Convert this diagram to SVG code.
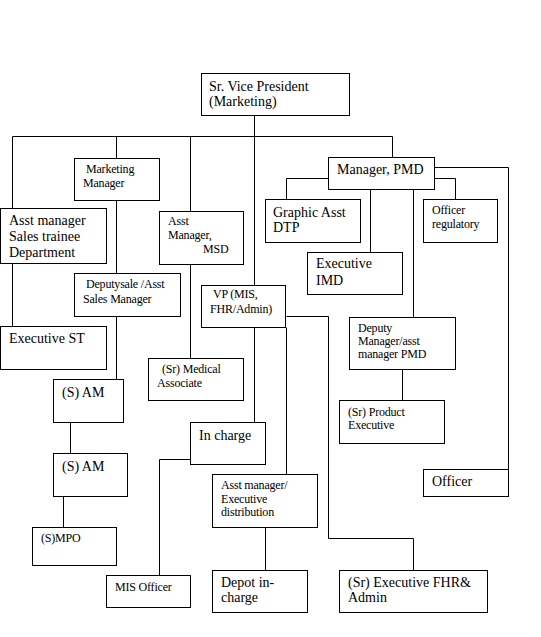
<svg xmlns="http://www.w3.org/2000/svg" width="541" height="637" viewBox="0 0 541 637">
<style>
rect{fill:#fff;stroke:#000;stroke-width:1}
.c path{fill:none;stroke:#000;stroke-width:1}
text{font-family:"Liberation Serif","Times New Roman",serif;fill:#000}
.l{font-size:14px}
.s{font-size:12px;letter-spacing:-0.2px}
</style>
<rect x="0" y="0" width="541" height="637" style="stroke:none"/>
<g class="c" id="connectors">
<path d="M254.5 115.5V285.5"/>
<path d="M12.5 136.5H392.5V157.5"/>
<path d="M12.5 136.5V208.5M12.5 263.5V326.5"/>
<path d="M116.5 136.5V158.5M116.5 200.5V273.5M116.5 316.5V379.5"/>
<path d="M190.5 136.5V211.5M190.5 264.5V358.5"/>
<path d="M70.5 422.5V453.5M63.5 496.5V527.5"/>
<path d="M434.5 167.5H508.5V469.5"/>
<path d="M434.5 178.5H455.5V199.5"/>
<path d="M328.5 178.5H286.5V199.5"/>
<path d="M370.5 189.5V252.5M413.5 189.5V317.5M402.5 369.5V400.5"/>
<path d="M254.5 327.5V422.5M286.5 327.5V474.5"/>
<path d="M286.5 316.5H328.5V538.5H413.5V570.5"/>
<path d="M190.5 459.5H159.5V575.5"/>
<path d="M265.5 527.5V570.5"/>
</g>
<g id="svp"><rect x="201.5" y="73.5" width="148" height="42"/><text class="l" x="209" y="91">Sr. Vice President</text><text class="l" x="209" y="106">(Marketing)</text></g>
<g id="mm"><rect x="74.5" y="158.5" width="85" height="42"/><text class="s" x="86" y="173">Marketing</text><text class="s" x="83" y="187">Manager</text></g>
<g id="astm"><rect x="0.5" y="208.5" width="106" height="55"/><text class="l" x="9" y="225">Asst manager</text><text class="l" x="9" y="241">Sales trainee</text><text class="l" x="9" y="257">Department</text></g>
<g id="msd"><rect x="159.5" y="211.5" width="84" height="53"/><text class="s" x="168" y="225">Asst</text><text class="s" x="168" y="239">Manager,</text><text class="s" x="203" y="253">MSD</text></g>
<g id="pmd"><rect x="328.5" y="157.5" width="106" height="32"/><text class="l" x="337" y="174">Manager, PMD</text></g>
<g id="graphic"><rect x="265.5" y="199.5" width="95" height="43"/><text class="l" x="273" y="217">Graphic Asst</text><text class="l" x="273" y="232">DTP</text></g>
<g id="offreg"><rect x="423.5" y="199.5" width="74" height="43"/><text class="s" x="432" y="214">Officer</text><text class="s" x="432" y="228">regulatory</text></g>
<g id="imd"><rect x="307.5" y="252.5" width="95" height="42"/><text class="l" x="316" y="268">Executive</text><text class="l" x="316" y="285">IMD</text></g>
<g id="dpmd"><rect x="349.5" y="317.5" width="106" height="52"/><text class="s" x="358" y="332">Deputy</text><text class="s" x="358" y="345">Manager/asst</text><text class="s" x="358" y="358">manager PMD</text></g>
<g id="prodexec"><rect x="339.5" y="400.5" width="105" height="43"/><text class="s" x="348" y="416">(Sr) Product</text><text class="s" x="348" y="429">Executive</text></g>
<g id="vpmis"><rect x="201.5" y="285.5" width="84" height="42"/><text class="s" x="213" y="298">VP (MIS,</text><text class="s" x="210" y="313">FHR/Admin)</text></g>
<g id="dsale"><rect x="74.5" y="273.5" width="106" height="43"/><text class="s" x="86" y="288">Deputysale /Asst</text><text class="s" x="83" y="303">Sales Manager</text></g>
<g id="execst"><rect x="0.5" y="326.5" width="106" height="43"/><text class="l" x="9" y="343">Executive ST</text></g>
<g id="medical"><rect x="148.5" y="358.5" width="95" height="42"/><text class="s" x="162" y="373">(Sr) Medical</text><text class="s" x="157" y="387">Associate</text></g>
<g id="sam1"><rect x="53.5" y="379.5" width="70" height="43"/><text class="l" x="62" y="397">(S) AM</text></g>
<g id="sam2"><rect x="53.5" y="453.5" width="74" height="43"/><text class="l" x="62" y="471">(S) AM</text></g>
<g id="smpo"><rect x="32.5" y="527.5" width="84" height="38"/><text class="s" x="41" y="542">(S)MPO</text></g>
<g id="incharge"><rect x="190.5" y="422.5" width="75" height="42"/><text class="l" x="199" y="440">In charge</text></g>
<g id="misofficer"><rect x="106.5" y="575.5" width="84" height="32"/><text class="s" x="115" y="591">MIS Officer</text></g>
<g id="distribution"><rect x="212.5" y="474.5" width="105" height="53"/><text class="s" x="221" y="489">Asst manager/</text><text class="s" x="221" y="503">Executive</text><text class="s" x="221" y="516">distribution</text></g>
<g id="depot"><rect x="212.5" y="570.5" width="95" height="42"/><text class="l" x="221" y="587">Depot in-</text><text class="l" x="221" y="602">charge</text></g>
<g id="fhr"><rect x="339.5" y="570.5" width="148" height="42"/><text class="l" x="348" y="587">(Sr) Executive FHR&amp;</text><text class="l" x="348" y="602">Admin</text></g>
<g id="officer"><rect x="423.5" y="469.5" width="85" height="27"/><text class="l" x="432" y="486">Officer</text></g>
</svg>
